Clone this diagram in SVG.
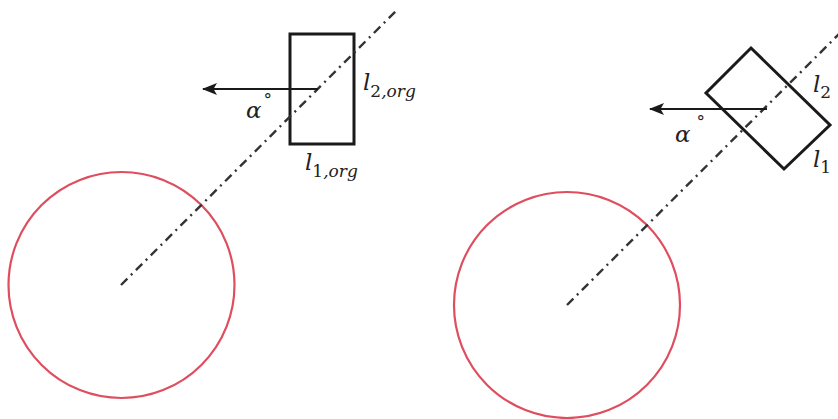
<svg xmlns="http://www.w3.org/2000/svg" width="838" height="419" viewBox="0 0 838 419">
<defs>
<marker id="ah" viewBox="0 0 15 12" refX="14" refY="6" markerWidth="15" markerHeight="12" markerUnits="userSpaceOnUse" orient="auto">
<path d="M15,6 L0,0 L3.5,6 L0,12 Z" fill="#1a1a1a"/>
</marker>
<style>
.circ{fill:none;stroke:#de4e5e;stroke-width:2.2}
.axis{fill:none;stroke:#333;stroke-width:2.4;stroke-dasharray:9 5 2 5}
.box{fill:none;stroke:#1a1a1a;stroke-width:3}
.arr{fill:none;stroke:#1a1a1a;stroke-width:2.2}
.lbl{font-family:"DejaVu Serif","Liberation Serif",serif;font-style:italic;font-size:23px;fill:#222}
.sub{font-size:17px}
.up{font-style:normal}
</style>
</defs>
<g id="left-circle"><circle class="circ" cx="121.5" cy="285" r="113"/></g>
<g id="right-circle"><circle class="circ" cx="567" cy="305" r="113"/></g>
<g id="left-box"><rect class="box" x="290" y="34" width="64" height="110"/></g>
<g id="right-box"><polygon class="box" points="751,48 830,125 784,169 706,93"/></g>
<g id="connectors">
<line class="axis" x1="121" y1="285" x2="396" y2="11"/>
<line class="axis" x1="567" y1="305" x2="840" y2="33"/>
<line class="arr" x1="318" y1="89" x2="203" y2="89" marker-end="url(#ah)"/>
<line class="arr" x1="767" y1="109" x2="650" y2="109" marker-end="url(#ah)"/>
</g>
<g id="labels">
<text class="lbl" x="246" y="118">α<tspan class="sub up" dx="2" dy="-13">°</tspan></text>
<text class="lbl" x="363" y="90">l<tspan class="sub" dy="7"><tspan class="up">2</tspan>,org</tspan></text>
<text class="lbl" x="305" y="170">l<tspan class="sub" dy="7"><tspan class="up">1</tspan>,org</tspan></text>
<text class="lbl" x="675" y="142">α<tspan class="sub up" dx="6" dy="-15">°</tspan></text>
<text class="lbl" x="813" y="92">l<tspan class="sub up" dy="6">2</tspan></text>
<text class="lbl" x="813" y="167">l<tspan class="sub up" dy="6">1</tspan></text>
</g>
</svg>
